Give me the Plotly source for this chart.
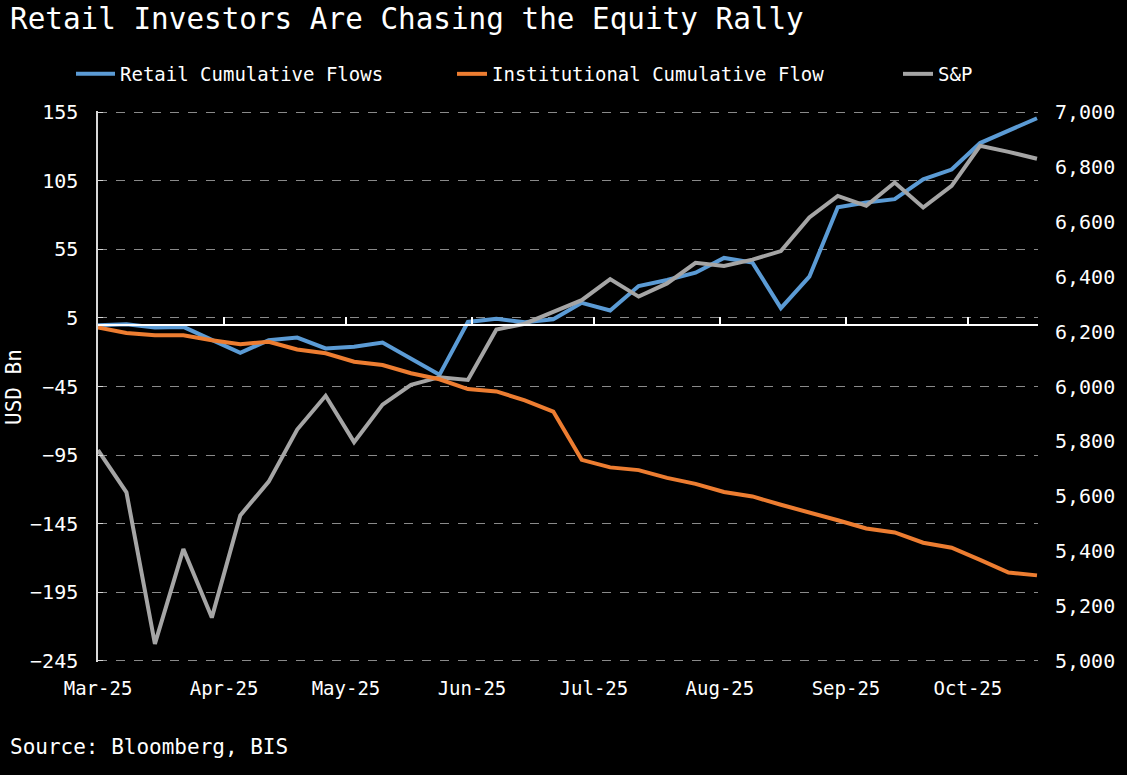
import plotly.graph_objects as go
import pandas as pd

dates = pd.date_range("2025-03-01", periods=34, freq="7D")

retail_flows = [-0.3, 0.4, -2.0, -1.5, -11.0, -20.4, -11.2, -9.3, -17.2, -16.0,
                -12.9, -24.5, -36.5, 2.1, 4.5, 1.8, 4.0, 16.0, 10.5, 28.3,
                32.7, 38.0, 48.8, 45.4, 12.2, 35.1, 85.7, 89.3, 91.7, 106.1,
                113.3, 132.6, 141.5, 150.7]

institutional_flows = [-2.0, -5.9, -7.6, -7.6, -11.2, -14.1, -12.4, -18.0, -20.8, -26.9,
                       -29.3, -35.3, -39.7, -46.9, -48.6, -55.1, -63.3, -98.5, -104.0, -106.0,
                       -111.7, -116.0, -122.0, -125.2, -131.3, -136.6, -142.6, -148.6, -151.5, -159.0,
                       -162.6, -171.5, -180.7, -182.8]

spx = [5768, 5614, 5061, 5407, 5157, 5530, 5653, 5843, 5966, 5797,
       5934, 6006, 6034, 6024, 6208, 6229, 6272, 6315, 6392, 6328,
       6376, 6451, 6440, 6463, 6494, 6617, 6695, 6659, 6744, 6653,
       6732, 6878, 6856, 6831]

month_ticks = ["2025-03-01", "2025-04-01", "2025-05-01", "2025-06-01",
               "2025-07-01", "2025-08-01", "2025-09-01", "2025-10-01"]
month_labels = ["Mar-25", "Apr-25", "May-25", "Jun-25", "Jul-25", "Aug-25", "Sep-25", "Oct-25"]

left_ticks = [155, 105, 55, 5, -45, -95, -145, -195, -245]
right_ticks = [7000, 6800, 6600, 6400, 6200, 6000, 5800, 5600, 5400, 5200, 5000]

x_range = ["2025-03-01", "2025-10-18 06:00"]
left_range = [-246.0, 156.0]
right_range = [5000 - 5.0, 7000 + 5.0]
FONT = "DejaVu Sans Mono"

fig = go.Figure()
fig.add_trace(go.Scatter(x=dates, y=retail_flows, name="Retail Cumulative Flows",
                         mode="lines", line=dict(color="#5B9BD5", width=4),
                         legend="legend"))
fig.add_trace(go.Scatter(x=dates, y=institutional_flows, name="Institutional Cumulative Flow",
                         mode="lines", line=dict(color="#ED7D31", width=4),
                         xaxis="x2", legend="legend2"))
fig.add_trace(go.Scatter(x=dates, y=spx, name="S&P", yaxis="y2",
                         mode="lines", line=dict(color="#A5A5A5", width=4),
                         legend="legend3"))

leg_common = dict(orientation="h", yanchor="middle", xanchor="left",
                  xref="container", yref="container",
                  bgcolor="rgba(0,0,0,0)", borderwidth=0,
                  font=dict(family=FONT, size=19, color="white"))
leg_y = 1 - 74 / 775

fig.update_layout(
    width=1127, height=775,
    paper_bgcolor="black", plot_bgcolor="black",
    margin=dict(l=98, r=89, t=111, b=113, autoexpand=False),
    font=dict(family=FONT, color="white", size=19),
    showlegend=True,
    title=dict(text="Retail Investors Are Chasing the Equity Rally",
               x=10 / 1127, xanchor="left", xref="container",
               y=1 - 19 / 775, yanchor="middle", yref="container",
               font=dict(family=FONT, size=29.3, color="white")),
    legend=dict(x=71 / 1127, y=leg_y, itemwidth=39, **leg_common),
    legend2=dict(x=452 / 1127, y=leg_y, itemwidth=30, **leg_common),
    legend3=dict(x=898 / 1127, y=leg_y, itemwidth=30, **leg_common),
    xaxis=dict(type="date", range=x_range, tickvals=month_ticks, ticktext=month_labels,
               showgrid=False, showline=False, zeroline=False, ticks="",
               tickfont=dict(family=FONT, size=19, color="white"),
               ticklabelstandoff=13),
    xaxis2=dict(type="date", range=x_range, overlaying="x", anchor="free",
                position=(0 - left_range[0]) / (left_range[1] - left_range[0]),
                side="bottom",
                tickvals=month_ticks, showticklabels=False,
                showgrid=False, zeroline=False,
                showline=True, linecolor="white", linewidth=2,
                ticks="inside", ticklen=7, tickwidth=1.5, tickcolor="white"),
    yaxis=dict(range=left_range, tickvals=left_ticks,
               showgrid=True, gridcolor="#8a8a8a", griddash="dash", gridwidth=1,
               showline=True, linecolor="#d9d9d9", linewidth=1.5,
               ticks="inside", ticklen=5, tickcolor="#d9d9d9",
               zeroline=False,
               tickfont=dict(family=FONT, size=20, color="white"),
               ticklabelstandoff=14),
    yaxis2=dict(range=right_range, tickvals=right_ticks, tickformat=",",
                overlaying="y", side="right", showgrid=False, showline=False,
                zeroline=False, ticks="",
                tickfont=dict(family=FONT, size=20, color="white"),
                ticklabelstandoff=16),
    annotations=[
        dict(text="USD Bn", textangle=-90, x=(14 - 98) / 940, y=1 - (387 - 111) / 551,
             xref="paper", yref="paper", xanchor="center", yanchor="middle",
             showarrow=False, font=dict(family=FONT, size=21, color="white")),
        dict(text="Source: Bloomberg, BIS", x=(8 - 98) / 940, y=-(747 - 662) / 551,
             xref="paper", yref="paper", xanchor="left", yanchor="middle",
             showarrow=False, font=dict(family=FONT, size=21, color="white")),
    ],
)

fig.write_html("out.html")
